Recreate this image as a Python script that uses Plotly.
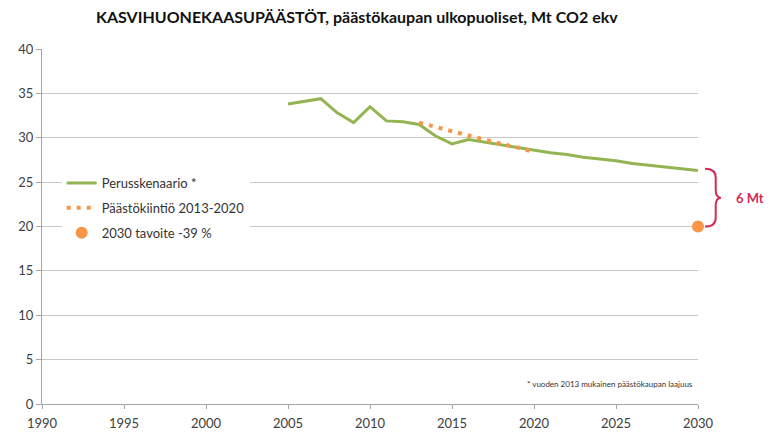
import plotly.graph_objects as go

# Perusskenaario (baseline, Mt CO2 ekv)
base_years = [2005, 2006, 2007, 2008, 2009, 2010, 2011, 2012, 2013, 2014, 2015,
              2016, 2017, 2018, 2019, 2020, 2021, 2022, 2023, 2024, 2025,
              2026, 2027, 2028, 2029, 2030]
base_vals = [33.8, 34.1, 34.4, 32.8, 31.7, 33.5, 31.9, 31.8, 31.5, 30.2, 29.3,
             29.8, 29.5, 29.2, 28.9, 28.6, 28.3, 28.1, 27.8, 27.6, 27.4,
             27.1, 26.9, 26.7, 26.5, 26.3]

# Päästökiintiö 2013-2020
quota_years = [2013, 2014, 2015, 2016, 2017, 2018, 2019, 2020]
quota_vals = [31.7, 31.2, 30.8, 30.3, 29.8, 29.3, 28.9, 28.4]

# 2030 tavoite -39 %
target_years = [2030]
target_vals = [20.0]

GREEN = "#92b552"
ORANGE = "#f79646"
RED = "#d42a55"
FONT = "Lato"

fig = go.Figure()
fig.add_trace(go.Scatter(
    x=base_years, y=base_vals, mode="lines", name="Perusskenaario *",
    line=dict(color=GREEN, width=3), legendgroup="a",
))
fig.add_trace(go.Scatter(
    x=quota_years, y=quota_vals, mode="lines", name="Päästökiintiö 2013-2020",
    line=dict(color=ORANGE, width=4, dash="4px,6px"), legendgroup="b",
))
fig.add_trace(go.Scatter(
    x=target_years, y=target_vals, mode="markers", name="2030 tavoite -39 %",
    marker=dict(color=ORANGE, size=12), legendgroup="c", cliponaxis=False,
))

# brace between baseline end and target
top = base_vals[-1] + 0.2
bot = target_vals[0]
mid = (top + bot) / 2
xa, xb, xc = 1.0107, 1.027, 1.035
brace = (f"M {xa},{top} Q {xb},{top} {xb},{top - 1.0} L {xb},{mid + 0.9} "
         f"Q {xb},{mid} {xc},{mid} Q {xb},{mid} {xb},{mid - 0.9} "
         f"L {xb},{bot + 1.0} Q {xb},{bot} {xa},{bot}")
fig.add_shape(type="path", path=brace, xref="paper", yref="y",
              line=dict(color=RED, width=2))
fig.add_annotation(x=1.055, y=mid, xref="paper", yref="y", text="<b>6 Mt</b>",
                   showarrow=False, xanchor="left",
                   font=dict(color=RED, size=13, family=FONT))
fig.add_annotation(x=0.995, y=2.3, xref="paper", yref="y",
                   text="* vuoden 2013 mukainen päästökaupan laajuus",
                   showarrow=False, xanchor="right",
                   font=dict(color="#333333", size=8, family=FONT))

# page body has an 8px margin, so the figure is a bit smaller than the window
fig.update_layout(
    width=765, height=426,
    margin=dict(l=34, r=75, t=41, b=30),
    paper_bgcolor="white", plot_bgcolor="white",
    title=dict(text="<b>KASVIHUONEKAASUPÄÄSTÖT, päästökaupan ulkopuoliset, Mt CO2 ekv</b>",
               x=0.456, xanchor="center", y=0.977, yanchor="middle",
               font=dict(size=16, color="#111111", family=FONT)),
    font=dict(family=FONT, color="#404040", size=13),
    legend=dict(x=0.03, y=0.665, xanchor="left", yanchor="top",
                bgcolor="white", tracegroupgap=5, itemwidth=30,
                font=dict(size=13, color="#333333", family=FONT)),
    xaxis=dict(range=[1990, 2030], tickvals=list(range(1990, 2031, 5)),
               showgrid=False, showline=True, linecolor="#a6a6a6", linewidth=1,
               ticks="outside", ticklen=4, tickcolor="#a6a6a6", zeroline=False,
               ticklabelstandoff=3,
               automargin=False, tickfont=dict(size=13, color="#404040")),
    yaxis=dict(range=[0, 40], tickvals=list(range(0, 41, 5)),
               showgrid=True, gridcolor="#c8c8c8", gridwidth=1,
               showline=True, linecolor="#a6a6a6", linewidth=1,
               ticks="outside", ticklen=5, tickcolor="#a6a6a6", zeroline=False,
               automargin=False, tickfont=dict(size=13, color="#404040")),
)

fig.write_html("out.html")
